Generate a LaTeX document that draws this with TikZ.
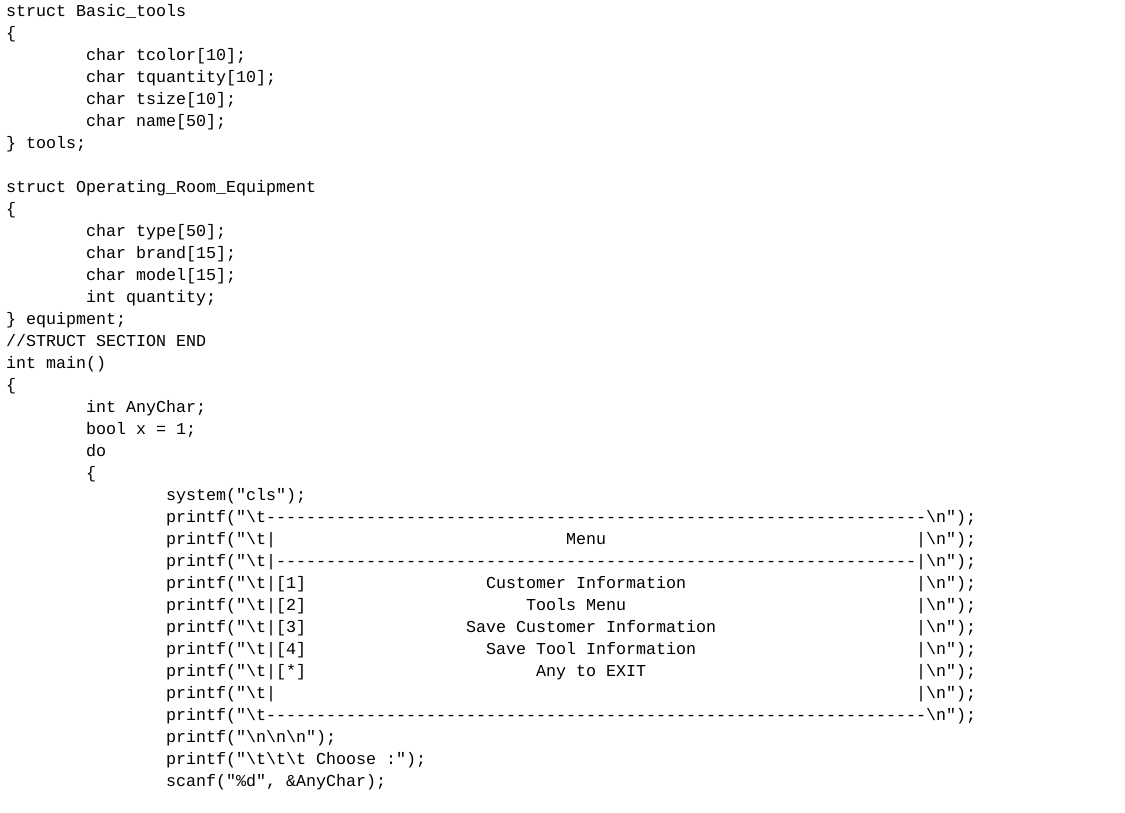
\documentclass[tikz,border=0pt]{standalone}
\usepackage{fontspec}
\setmonofont{Liberation Mono}
\begin{document}
\begin{tikzpicture}[x=1pt,y=1pt,
  code/.style={anchor=base west,inner sep=0pt,outer sep=0pt,font=\ttfamily\fontsize{16.67}{20}\selectfont,text=black}]
\useasboundingbox[fill=white] (0,0) rectangle (1125,-812);
\newcommand\cl[4]{\node[code] (#1) at ({6+10*#3},{-(16+22*#2)}) {#4};}
\newcommand\bs{\textbackslash}
\cl{a0}{0}{0}{struct Basic\_tools}
\cl{a1}{1}{0}{\{}
\cl{a2}{2}{8}{char tcolor[10];}
\cl{a3}{3}{8}{char tquantity[10];}
\cl{a4}{4}{8}{char tsize[10];}
\cl{a5}{5}{8}{char name[50];}
\cl{a6}{6}{0}{\} tools;}
\cl{a8}{8}{0}{struct Operating\_Room\_Equipment}
\cl{a9}{9}{0}{\{}
\cl{a10}{10}{8}{char type[50];}
\cl{a11}{11}{8}{char brand[15];}
\cl{a12}{12}{8}{char model[15];}
\cl{a13}{13}{8}{int quantity;}
\cl{a14}{14}{0}{\} equipment;}
\cl{a15}{15}{0}{//STRUCT SECTION END}
\cl{a16}{16}{0}{int main()}
\cl{a17}{17}{0}{\{}
\cl{a18}{18}{8}{int AnyChar;}
\cl{a19}{19}{8}{bool x = 1;}
\cl{a20}{20}{8}{do}
\cl{a21}{21}{8}{\{}
\cl{a22}{22}{16}{system("cls");}
\foreach \r in {23,...,32} {\cl{p\r}{\r}{16}{printf("\bs t}}
\foreach \r in {24,...,31} {\cl{b\r}{\r}{26}{|} \cl{c\r}{\r}{91}{|}}
\foreach \r in {23,24,...,32} {\cl{e\r}{\r}{92}{\bs n");}}
\cl{d23}{23}{26}{------------------------------------------------------------------}
\cl{d32}{32}{26}{------------------------------------------------------------------}
\cl{d25}{25}{27}{----------------------------------------------------------------}
\cl{m24}{24}{56}{Menu}
\cl{k26}{26}{27}{[1]} \cl{t26}{26}{48}{Customer Information}
\cl{k27}{27}{27}{[2]} \cl{t27}{27}{52}{Tools Menu}
\cl{k28}{28}{27}{[3]} \cl{t28}{28}{46}{Save Customer Information}
\cl{k29}{29}{27}{[4]} \cl{t29}{29}{48}{Save Tool Information}
\cl{k30}{30}{27}{[*]} \cl{t30}{30}{53}{Any to EXIT}
\cl{a33}{33}{16}{printf("\bs n\bs n\bs n");}
\cl{a34}{34}{16}{printf("\bs t\bs t\bs t Choose :");}
\cl{a35}{35}{16}{scanf("\%d", \&AnyChar);}
\end{tikzpicture}
\end{document}
